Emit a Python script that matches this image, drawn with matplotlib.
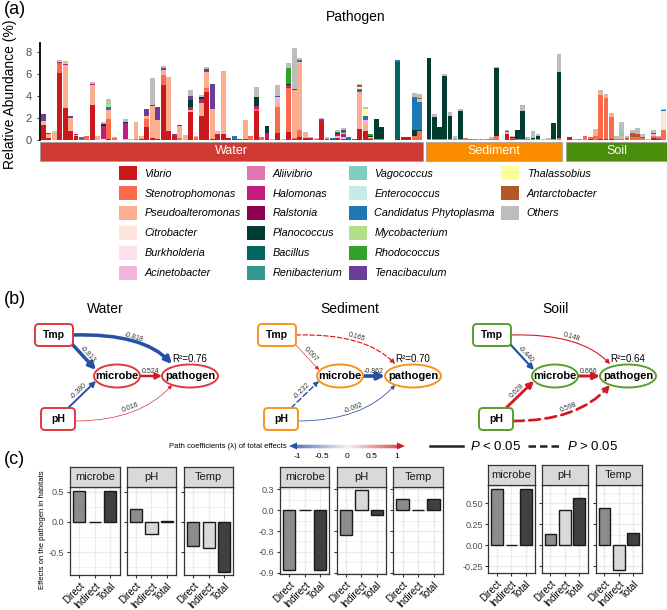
import numpy as np
import matplotlib.pyplot as plt
from matplotlib.patches import Rectangle, FancyBboxPatch, Ellipse, FancyArrowPatch, Patch, Polygon
from matplotlib.path import Path
from matplotlib.colors import LinearSegmentedColormap
from matplotlib.collections import LineCollection

plt.rcParams['font.family'] = ['Liberation Sans', 'DejaVu Sans']
plt.rcParams['mathtext.fontset'] = 'custom'
plt.rcParams['mathtext.it'] = 'Liberation Sans:italic'
plt.rcParams['mathtext.rm'] = 'Liberation Sans'

# ---------------- data: (a) relative abundance of pathogen genera ----------------
genera = ['Vibrio', 'Stenotrophomonas', 'Pseudoalteromonas', 'Citrobacter', 'Burkholderia',
          'Acinetobacter', 'Aliivibrio', 'Halomonas', 'Ralstonia', 'Planococcus', 'Bacillus',
          'Renibacterium', 'Vagococcus', 'Enterococcus', 'Candidatus Phytoplasma',
          'Mycobacterium', 'Rhodococcus', 'Tenacibaculum', 'Thalassobius', 'Antarctobacter',
          'Others']
codes = ['V', 'St', 'Ps', 'Ci', 'Bu', 'Ac', 'Al', 'Ha', 'Ra', 'Pl', 'Ba', 'Re', 'Va', 'En',
         'Ca', 'My', 'Rh', 'Te', 'Th', 'An', 'O']
genus_colors = ['#cb181d', '#fb6a4a', '#fcae91', '#fee5d9', '#fde0ef', '#f1b6da', '#de77ae',
                '#c51b7d', '#8e0152', '#003c30', '#01665e', '#35978f', '#80cdc1', '#c7eae5',
                '#1f78b4', '#b2df8a', '#33a02c', '#6a3d9a', '#ffff99', '#b15928', '#bdbdbd']

water = [
    {'V': 1.4, 'Ps': 0.25, 'Ac': 0.05, 'Te': 0.7}, {'V': 0.2, 'Ps': 0.3, 'Te': 0.1},
    {'Ps': 0.6, 'My': 0.2}, {'V': 6.1, 'St': 0.85, 'Ha': 0.1, 'My': 0.15, 'O': 0.1},
    {'V': 2.9, 'Ps': 3.9, 'Ha': 0.1, 'My': 0.15, 'O': 0.15}, {'V': 0.8, 'Ps': 1.2, 'Te': 0.2},
    {'V': 0.35, 'Ps': 0.1, 'Ha': 0.05}, {'Re': 0.1, 'Ca': 0.15}, {'St': 0.4},
    {'V': 3.2, 'Ps': 1.8, 'Ha': 0.1, 'O': 0.2}, {'Ps': 0.4},
    {'Bu': 0.1, 'Ha': 1.2, 'Pl': 0.15, 'O': 0.15},
    {'V': 0.1, 'St': 1.8, 'Ps': 0.8, 'Ca': 0.3, 'My': 0.3, 'O': 0.45}, {'St': 0.2, 'Va': 0.1},
    {'Ps': 0.03}, {'Ps': 0.1, 'Ha': 1.4, 'Pl': 0.15, 'O': 0.25}, {'Ps': 0.08},
    {'St': 0.1, 'Ps': 1.4, 'O': 0.1}, {'V': 0.1, 'Ps': 0.25, 'Va': 0.05},
    {'V': 1.15, 'St': 0.8, 'Ps': 0.2, 'Ha': 0.1, 'Rh': 0.05, 'Te': 0.5},
    {'V': 0.2, 'Ps': 2.9, 'Te': 0.1, 'O': 2.4}, {'V': 0.1, 'Ps': 1.7, 'Te': 1.2},
    {'V': 5.0, 'St': 0.9, 'Ps': 0.45, 'Ha': 0.1, 'Te': 0.1, 'O': 0.15},
    {'V': 0.8, 'Ps': 4.8, 'O': 0.1}, {'V': 0.35, 'Ps': 0.05, 'Ha': 0.05, 'Te': 0.05},
    {'St': 0.2, 'Ps': 1.1, 'Te': 0.05}, {'Ps': 0.45},
    {'V': 2.5, 'Ps': 0.2, 'Ha': 0.3, 'Pl': 0.6, 'Te': 0.4, 'O': 0.5}, {'St': 0.3, 'Ps': 0.05},
    {'V': 2.2, 'Ps': 1.2, 'Ha': 0.3, 'Pl': 0.2, 'O': 0.15},
    {'V': 4.4, 'St': 0.3, 'Ps': 1.5, 'Ha': 0.1, 'Te': 0.1, 'O': 0.2},
    {'V': 0.1, 'Ps': 2.7, 'Te': 2.3}, {'V': 0.5, 'Ac': 0.2, 'O': 0.1},
    {'V': 0.5, 'Ps': 5.7, 'O': 0.1}, {'V': 0.15, 'St': 0.05}, {'V': 0.1, 'Ca': 0.25},
    {'V': 0.1}, {'V': 0.1, 'Ps': 1.7, 'O': 0.05}, {'St': 0.35, 'Ps': 0.05},
    {'V': 2.6, 'St': 0.2, 'Ha': 0.3, 'Pl': 0.8, 'O': 0.9}, {'St': 0.25},
    {'V': 0.15, 'Ha': 0.5, 'Pl': 0.6}, {'Ps': 0.05},
    {'V': 0.6, 'St': 2.4, 'Ps': 0.4, 'Ac': 0.5, 'Te': 0.1, 'O': 1.0}, {'O': 0.1},
    {'V': 0.75, 'St': 4.0, 'Ha': 0.2, 'Pl': 0.15, 'Rh': 1.4, 'O': 0.5},
    {'V': 0.1, 'St': 0.1, 'Ps': 4.3, 'Te': 0.15, 'O': 3.7},
    {'V': 0.3, 'St': 0.65, 'Ps': 6.1, 'Ca': 0.2, 'O': 0.2}, {'V': 0.2, 'Ps': 0.4, 'O': 0.1},
    {'V': 0.1, 'Ha': 0.1, 'Va': 0.1}, {'St': 0.1, 'Ps': 0.1},
    {'V': 1.7, 'Ha': 0.1, 'Ca': 0.1, 'O': 0.1}, {'V': 0.1, 'O': 0.2}, {'V': 0.05, 'Ca': 0.15},
    {'V': 0.2, 'Ac': 0.2, 'Ha': 0.15, 'Pl': 0.1, 'Rh': 0.1, 'O': 0.15},
    {'V': 0.1, 'Ac': 0.2, 'Ha': 0.2, 'My': 0.1, 'Rh': 0.1, 'Te': 0.2, 'O': 0.2},
    {'V': 0.05, 'Ca': 0.2, 'O': 0.05}, {'Ca': 0.1},
    {'V': 1.0, 'Ps': 3.35, 'Ca': 0.3, 'Th': 0.2, 'An': 0.1, 'O': 0.1},
    {'V': 0.8, 'Ps': 0.7, 'Ac': 0.3, 'Ca': 0.35, 'Th': 0.7, 'O': 0.1},
    {'V': 0.1, 'St': 0.1, 'Ac': 0.1, 'Pl': 0.1, 'Rh': 0.1}, {'St': 0.1, 'Pl': 1.8},
    {'St': 0.1, 'Pl': 1.1}, {}, {}, {'Ba': 7.1, 'Ca': 0.2}, {'V': 0.25, 'Ha': 0.05}, {'V': 0.3},
    {'St': 0.4, 'Pl': 0.5, 'Ca': 2.9, 'An': 0.1, 'O': 0.4},
    {'St': 0.8, 'Pl': 0.15, 'Ca': 2.5, 'My': 0.3, 'An': 0.05, 'O': 0.4},
]
sediment = [
    {'St': 0.1, 'Pl': 7.35}, {'St': 0.1, 'Pl': 2.0, 'O': 0.3}, {'St': 0.1, 'Pl': 1.1},
    {'St': 0.1, 'Pl': 5.7, 'O': 0.2}, {'St': 0.1, 'Pl': 2.1, 'O': 0.3}, {'St': 0.05, 'O': 0.35},
    {'St': 0.1, 'Pl': 2.5, 'O': 0.2}, {'St': 0.2}, {'St': 0.05}, {'St': 0.1}, {'St': 0.1},
    {'St': 0.05, 'O': 0.05}, {'St': 0.05, 'O': 0.25}, {'St': 0.35, 'Pl': 6.15, 'O': 0.1}, {},
    {'V': 0.5, 'Ac': 0.2, 'Ha': 0.1, 'O': 0.1}, {'V': 0.1, 'St': 0.1, 'Pl': 0.1, 'O': 0.1},
    {'St': 0.05, 'Pl': 0.85}, {'St': 0.1, 'Pl': 2.5, 'O': 0.6}, {'St': 0.1, 'O': 0.2},
    {'St': 0.1, 'Pl': 0.05, 'O': 0.65}, {'St': 0.1, 'Pl': 0.3, 'O': 0.1}, {'O': 0.1},
    {'O': 0.2}, {'St': 0.1, 'Pl': 1.4}, {'St': 0.2, 'Pl': 6.0, 'O': 1.6},
]
soil = [
    {'V': 0.25, 'Ac': 0.05}, {'O': 0.1}, {'St': 0.1}, {'St': 0.35, 'Ps': 0.05},
    {'V': 0.05, 'St': 0.25}, {'St': 0.4, 'Ps': 0.6}, {'V': 0.1, 'St': 4.0, 'Ps': 0.3, 'O': 0.1},
    {'V': 0.1, 'St': 3.7, 'Ps': 0.3, 'O': 0.1}, {'V': 0.1, 'St': 2.0, 'Ps': 0.3, 'O': 0.05},
    {'St': 0.1, 'O': 0.3}, {'St': 0.1, 'Ps': 0.3, 'Va': 0.4, 'O': 0.8},
    {'St': 0.1, 'An': 0.1, 'O': 0.2}, {'St': 0.3, 'An': 0.3, 'O': 0.3},
    {'St': 0.25, 'An': 0.3, 'O': 0.5}, {'St': 0.2, 'An': 0.1, 'O': 0.25}, {'O': 0.1},
    {'V': 0.2, 'St': 0.2, 'Ac': 0.1, 'Ha': 0.1, 'O': 0.3}, {'V': 0.1, 'St': 0.2, 'O': 0.1},
    {'St': 0.9, 'Ci': 1.75, 'Ca': 0.1, 'O': 0.05},
]
habitats = ['Water', 'Sediment', 'Soil']
habitat_colors = ['#cf3a35', '#fb8c00', '#4b8e0b']

# ---------------- data: (b) structural equation models ----------------
# paths: Tmp->pathogen, Tmp->microbe, pH->microbe, microbe->pathogen, pH->pathogen
coef_water = [-0.818, -0.813, -0.380, 0.524, 0.016]
coef_sediment = [0.165, 0.007, -0.232, -0.862, -0.062]
coef_soil = [0.148, -0.440, 0.628, 0.666, 0.598]
sig_water = [True, True, True, True, True]
sig_sediment = [False, True, False, True, True]
sig_soil = [True, True, True, True, False]
r2_values = [0.76, 0.70, 0.64]
sem_titles = ['Water', 'Sediment', 'Soiil']
sem_colors = ['#e0393e', '#f7941d', '#5a9e2a']

# ---------------- data: (c) direct / indirect / total effects ----------------
effect_types = ['Direct', 'Indirect', 'Total']
predictors = ['microbe', 'pH', 'Temp']
eff_water = [[0.524, 0.0, 0.524], [0.22, -0.20, 0.02], [-0.40, -0.43, -0.83]]
eff_sediment = [[-0.862, 0.0, -0.862], [-0.355, 0.29, -0.063], [0.17, 0.0, 0.165]]
eff_soil = [[0.667, 0.0, 0.667], [0.14, 0.42, 0.56], [0.444, -0.29, 0.15]]
effect_fill = ['#8c8c8c', '#d9d9d9', '#404040']

W, H = 667, 610
fig = plt.figure(figsize=(W / 100, H / 100), dpi=100)


def px_axes(x0, y0, x1, y1, **kw):
    return fig.add_axes([x0 / W, 1 - y1 / H, (x1 - x0) / W, (y1 - y0) / H], **kw)


# ================= (a) =================
facet_px = [(40, 423), (426, 562), (566, 667)]
for i, (samples, (xa, xb)) in enumerate(zip([water, sediment, soil], facet_px)):
    ax = px_axes(xa, 43, xb, 140)
    n = len(samples)
    x = np.arange(n)
    bottom = np.zeros(n)
    for code, col in zip(codes, genus_colors):
        vals = np.array([s.get(code, 0.0) for s in samples])
        ax.bar(x, vals, 0.9, bottom=bottom, color=col, linewidth=0)
        bottom += vals
    ax.set_xlim(-0.6, n - 0.4)
    ax.set_ylim(0, 8.8)
    ax.set_xticks([])
    for s in ax.spines.values():
        s.set_visible(False)
    if i == 0:
        ax.spines['left'].set_visible(True)
        ax.spines['left'].set_linewidth(1.3)
        ax.set_yticks([0, 2, 4, 6, 8])
        ax.tick_params(axis='y', labelsize=8, labelcolor='#4d4d4d', color='#333333', length=2.5)
    else:
        ax.set_yticks([])

fig.text(10 / W, 1 - 94 / H, 'Relative Abundance (%)', rotation=90, fontsize=10,
         ha='center', va='center')
fig.text(356 / W, 1 - 17 / H, 'Pathogen', fontsize=10, ha='center', va='center')
fig.text(4 / W, 1 - 9 / H, '(a)', fontsize=13, ha='left', va='center')

# legend: 6 rows, column-major; pad the last column with blank entries
handles = [Patch(facecolor=c, edgecolor='none') for c in genus_colors]
labels = list(genera)
for _ in range(3):
    handles.append(Patch(facecolor='none', edgecolor='none'))
    labels.append('')
fig.legend(handles, labels, ncol=4, loc='upper left', bbox_to_anchor=(119 / W, 1 - 166 / H),
           frameon=False, prop={'style': 'italic', 'size': 7.8}, handlelength=1.65,
           handleheight=1.65, handletextpad=0.7, columnspacing=0.6, labelspacing=0.52,
           borderpad=0, borderaxespad=0)

# overlay for strips, SEM diagrams and annotations (pixel coordinates)
ov = fig.add_axes([0, 0, 1, 1])
ov.set_xlim(0, W)
ov.set_ylim(H, 0)
ov.axis('off')

for (xa, xb), name, col in zip(facet_px, habitats, habitat_colors):
    ov.add_patch(Rectangle((xa, 141.5), xb - xa, 19.5, facecolor=col, edgecolor='#9a9a9a', lw=0.5))
    ov.text((xa + xb) / 2, 151.5, name, color='white', fontsize=9, ha='center', va='center')

# ================= (b) =================
ov.text(4, 300, '(b)', fontsize=13, ha='left', va='center')
blue, red = '#2450a6', '#d2191f'

sem_offsets = [0, 223, 438]
title_x = [105, 350, 556]
for k, (coefs, sigs) in enumerate([(coef_water, sig_water), (coef_sediment, sig_sediment),
                                   (coef_soil, sig_soil)]):
    dx = sem_offsets[k]
    ec = sem_colors[k]
    ov.text(title_x[k], 309, sem_titles[k], fontsize=10, ha='center', va='center')
    # nodes
    for (cx, cy, w, h, lab) in [(54, 335, 38, 22, 'Tmp'), (58, 419, 34, 22, 'pH')]:
        ov.add_patch(FancyBboxPatch((cx + dx - w / 2, cy - h / 2), w, h,
                                    boxstyle='round,pad=0,rounding_size=4',
                                    facecolor='white', edgecolor=ec, lw=1.4, zorder=3))
        ov.text(cx + dx, cy, lab, fontsize=7.5, fontweight='bold', ha='center', va='center', zorder=4)
    for (cx, cy, w, h, lab) in [(117, 376, 46, 23, 'microbe'), (190, 376, 56, 23, 'pathogen')]:
        ov.add_patch(Ellipse((cx + dx, cy), w, h, facecolor='white', edgecolor=ec, lw=1.4, zorder=3))
        ov.text(cx + dx, cy, lab, fontsize=8, fontweight='bold', ha='center', va='center', zorder=4)
    ov.text(190 + dx, 359, 'R²=%.2f' % r2_values[k], fontsize=7, ha='center', va='center')
    # edges: start, control, end
    geo = [((73, 335), (143, 333), (172, 364)),
           ((72, 344), None, (96, 370)),
           ((68, 408), None, (96, 381)),
           ((140, 376), None, (162, 376)),
           ((75, 421), (140, 421), (172, 385))]
    for (p0, c, p2), coef, sig in zip(geo, coefs, sigs):
        p0 = np.array(p0, float) + [dx, 0]
        p2 = np.array(p2, float) + [dx, 0]
        c = (p0 + p2) / 2 if c is None else np.array(c, float) + [dx, 0]
        path = Path([p0, c, p2], [Path.MOVETO, Path.CURVE3, Path.CURVE3])
        col = blue if coef < 0 else red
        lw = 0.4 + 2.6 * abs(coef)
        arr = FancyArrowPatch(path=path, arrowstyle='-|>', mutation_scale=6 + 5 * abs(coef),
                              color=col, lw=lw, linestyle='-' if sig else (0, (4, 2)), zorder=2)
        ov.add_patch(arr)
        mid = 0.25 * p0 + 0.5 * c + 0.25 * p2
        d = p2 - p0
        ang = np.degrees(np.arctan2(-d[1], d[0]))
        r = np.radians(ang)
        off = 4.5
        ov.text(mid[0] - np.sin(r) * off, mid[1] - np.cos(r) * off, '%.3f' % coef,
                fontsize=5, rotation=ang, ha='center', va='center', color='#333333',
                rotation_mode='anchor')

# coefficient colour legend
ov.text(287, 446, 'Path coefficients (λ) of total effects', fontsize=5.5, ha='right', va='center')
cmap = LinearSegmentedColormap.from_list('bwr2', [blue, '#f4f0f0', red])
xs = np.linspace(296, 398, 120)
segs = [[(xs[j], 446), (xs[j + 1], 446)] for j in range(len(xs) - 1)]
ov.add_collection(LineCollection(segs, colors=cmap(np.linspace(0, 1, len(segs))), linewidths=2.5))
ov.add_patch(Polygon([(289, 446), (297, 442.5), (297, 449.5)], closed=True, color=blue, lw=0))
ov.add_patch(Polygon([(405, 446), (397, 442.5), (397, 449.5)], closed=True, color=red, lw=0))
for v in [-1, -0.5, 0, 0.5, 1]:
    ov.text(347 + v * 50, 456, '%g' % v, fontsize=6, ha='center', va='center')
ov.plot([430, 463], [446, 446], color='#222222', lw=1.8)
ov.text(470, 446, r'$P$ < 0.05', fontsize=9.5, ha='left', va='center')
ov.plot([528, 561], [446, 446], color='#222222', lw=1.8, linestyle=(0, (3, 1.6)))
ov.text(567, 446, r'$P$ > 0.05', fontsize=9.5, ha='left', va='center')

# ================= (c) =================
ov.text(4, 460, '(c)', fontsize=13, ha='left', va='center')

groups = [
    dict(vals=eff_water, xl=[70, 126.7, 184], w=49.5, top=467, bot=575, strip=20,
         ylim=(-0.883, 0.583), ticks=[-0.5, 0.0, 0.5], labels=['-0.5', '0.0', '0.5'], minor=0.25),
    dict(vals=eff_sediment, xl=[280, 336.7, 393.3], w=49.5, top=467, bot=574, strip=20,
         ylim=(-0.919, 0.336), ticks=[-0.9, -0.6, -0.3, 0.0, 0.3],
         labels=['-0.9', '-0.6', '-0.3', '0.0', '0.3'], minor=0.15),
    dict(vals=eff_soil, xl=[488.3, 541.7, 595.7], w=46.2, top=465, bot=573, strip=20,
         ylim=(-0.33, 0.718), ticks=[-0.25, 0.0, 0.25, 0.5],
         labels=['-0.25', '0.00', '0.25', '0.50'], minor=0.125),
]
for g_i, g in enumerate(groups):
    for p_i, pred in enumerate(predictors):
        xl = g['xl'][p_i]
        ax = px_axes(xl, g['top'] + g['strip'], xl + g['w'], g['bot'])
        lo, hi = g['ylim']
        minors = np.arange(np.floor(lo / g['minor']) * g['minor'], hi, g['minor'])
        for m in minors:
            ax.axhline(m, color='#ebebeb', lw=0.5, zorder=0)
        for t in g['ticks']:
            ax.axhline(t, color='#ebebeb', lw=1.0, zorder=0)
        for xv in [1, 2, 3]:
            ax.axvline(xv, color='#ebebeb', lw=1.0, zorder=0)
        ax.bar([1, 2, 3], g['vals'][p_i], 0.8, color=effect_fill, edgecolor='#1a1a1a', lw=1.0,
               zorder=2)
        ax.set_xlim(0.4, 3.6)
        ax.set_ylim(lo, hi)
        ax.set_xticks([1, 2, 3])
        ax.set_xticklabels(effect_types, rotation=45, ha='right', rotation_mode='anchor',
                           fontsize=7)
        ax.set_yticks(g['ticks'])
        if p_i == 0:
            ax.set_yticklabels(g['labels'], fontsize=6.5, color='#4d4d4d')
        else:
            ax.set_yticklabels([])
            ax.tick_params(axis='y', length=0)
        ax.tick_params(color='#333333', length=2.5, width=0.8, pad=1.5)
        for s in ax.spines.values():
            s.set_color('#333333')
            s.set_linewidth(0.9)
        sax = px_axes(xl, g['top'], xl + g['w'], g['top'] + g['strip'])
        sax.set_facecolor('#d9d9d9')
        sax.set_xticks([])
        sax.set_yticks([])
        for s in sax.spines.values():
            s.set_color('#333333')
            s.set_linewidth(0.9)
        sax.text(0.5, 0.5, pred, fontsize=8, ha='center', va='center', color='#1a1a1a',
                 transform=sax.transAxes)

fig.text(42 / W, 1 - 530 / H, 'Effects on the pathogen in habitats', rotation=90, fontsize=5.5,
         ha='center', va='center')

fig.savefig('out.png', dpi=100)
